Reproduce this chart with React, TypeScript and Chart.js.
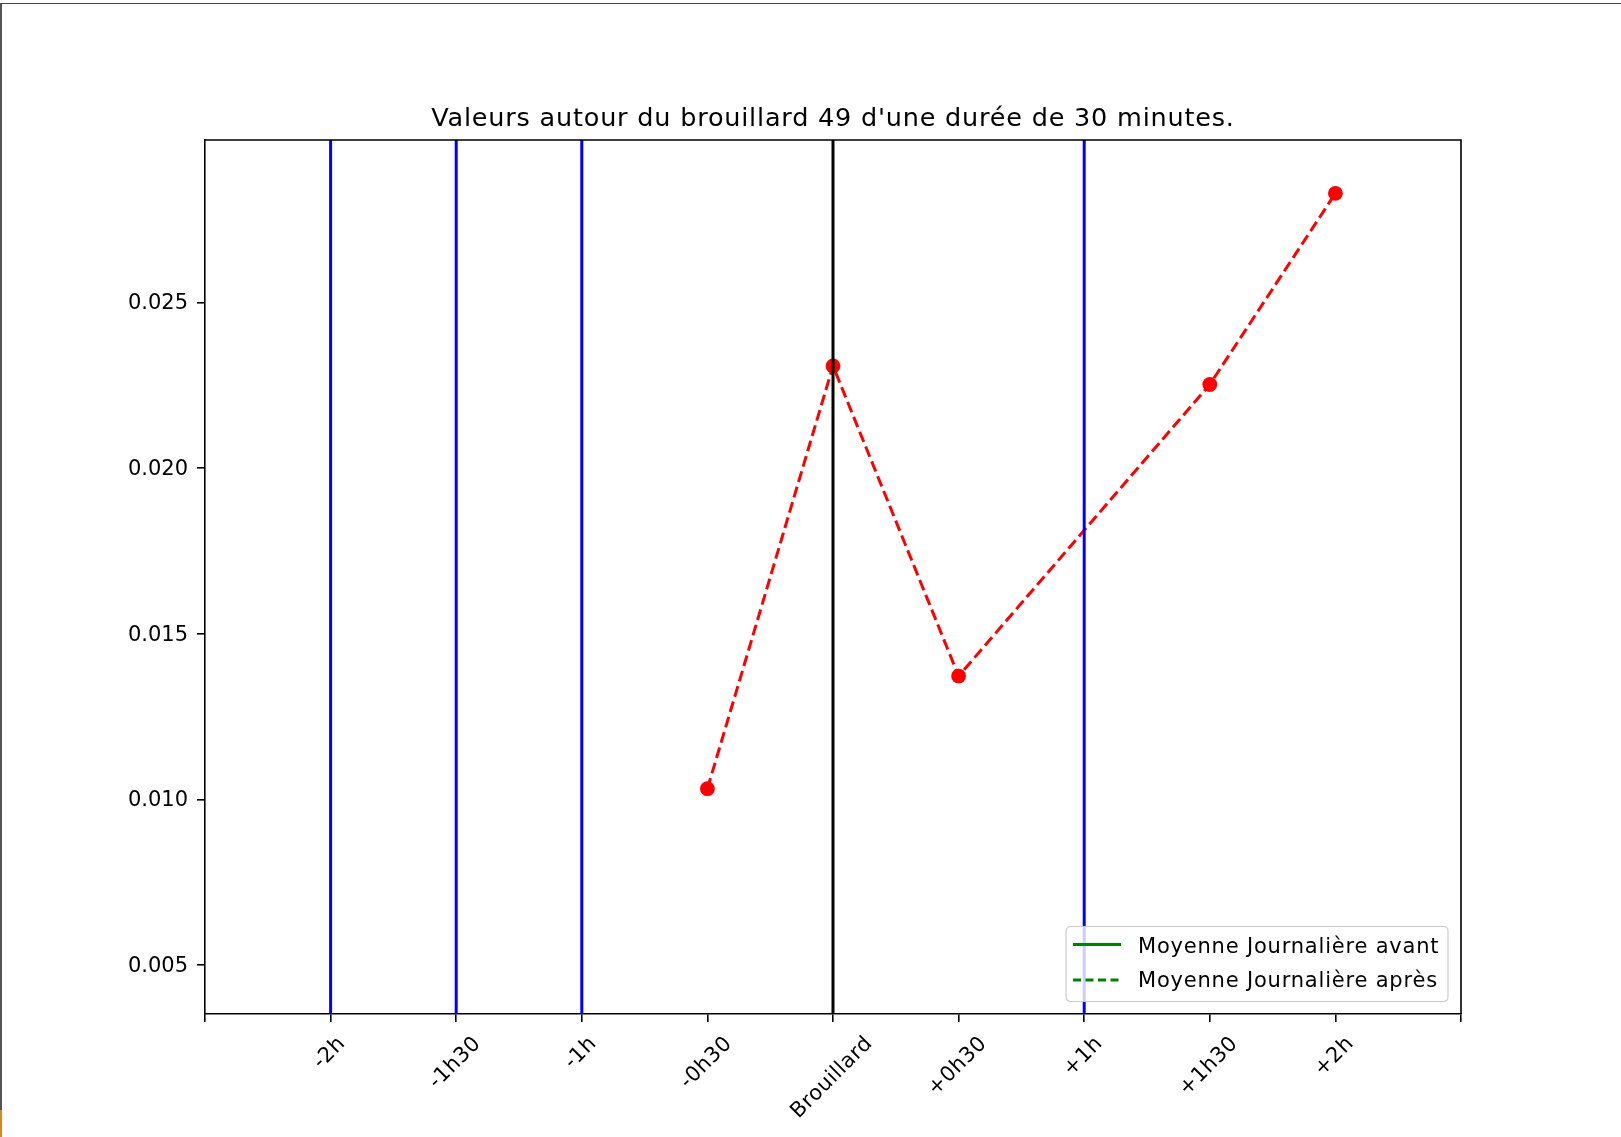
import React, { useEffect, useRef } from 'react';
import { Chart, registerables } from 'chart.js';

Chart.register(...registerables);

const TITLE = "Valeurs autour du brouillard 49 d'une durée de 30 minutes.";
const categories = ['-2h', '-1h30', '-1h', '-0h30', 'Brouillard', '+0h30', '+1h', '+1h30', '+2h'];
const values: (number | null)[] = [null, null, null, 0.01032, 0.02308, 0.01372, null, 0.02252, 0.02829];
const blueMarkers = ['-2h', '-1h30', '-1h', '+1h'];
const blackMarkers = ['Brouillard'];
const yTicks = [0.005, 0.01, 0.015, 0.02, 0.025];
const yMin = 0.003521;
const yMax = 0.029899;
const xMin = 0;
const xMax = 10;
const legendAvant = 'Moyenne Journalière avant';
const legendApres = 'Moyenne Journalière après';

const FONT = "'DejaVu Sans', sans-serif";
const catPos = (c: string) => categories.indexOf(c) + 1;

const framePlugin = {
  id: 'framePlugin',
  afterDraw(chart: any) {
    const { ctx, chartArea } = chart;
    const xs = chart.scales.x;
    ctx.save();
    // top & right spines
    ctx.strokeStyle = '#000';
    ctx.lineWidth = 1.6;
    ctx.beginPath();
    ctx.moveTo(chartArea.left, chartArea.top);
    ctx.lineTo(chartArea.right, chartArea.top);
    ctx.lineTo(chartArea.right, chartArea.bottom);
    ctx.stroke();

    // title
    ctx.fillStyle = '#000';
    ctx.font = `25.5px ${FONT}`;
    (ctx as any).letterSpacing = '0.8px';
    ctx.textAlign = 'center';
    ctx.textBaseline = 'alphabetic';
    ctx.fillText(TITLE, (chartArea.left + chartArea.right) / 2, 126);

    // rotated x tick labels (centered like matplotlib)
    ctx.font = `21px ${FONT}`;
    (ctx as any).letterSpacing = '0.5px';
    const s = Math.SQRT1_2;
    categories.forEach((lab, i) => {
      const px = xs.getPixelForValue(i + 1);
      const w = ctx.measureText(lab).width;
      const h = 24;
      const top = chartArea.bottom + 18;
      const cy = top + ((w + h) * s) / 2;
      ctx.save();
      ctx.translate(px - 1, cy);
      ctx.rotate(-Math.PI / 4);
      ctx.textAlign = 'center';
      ctx.textBaseline = 'middle';
      ctx.fillText(lab, 0, 0);
      ctx.restore();
    });

    // legend
    const lx = 1066, ly = 926.5, lw = 382, lh = 75, r = 5;
    ctx.beginPath();
    ctx.moveTo(lx + r, ly);
    ctx.lineTo(lx + lw - r, ly);
    ctx.quadraticCurveTo(lx + lw, ly, lx + lw, ly + r);
    ctx.lineTo(lx + lw, ly + lh - r);
    ctx.quadraticCurveTo(lx + lw, ly + lh, lx + lw - r, ly + lh);
    ctx.lineTo(lx + r, ly + lh);
    ctx.quadraticCurveTo(lx, ly + lh, lx, ly + lh - r);
    ctx.lineTo(lx, ly + r);
    ctx.quadraticCurveTo(lx, ly, lx + r, ly);
    ctx.closePath();
    ctx.fillStyle = 'rgba(255,255,255,0.8)';
    ctx.fill();
    ctx.strokeStyle = '#cccccc';
    ctx.lineWidth = 1.2;
    ctx.stroke();

    const entries = chart.data.datasets.filter((d: any) => d.inLegend);
    (ctx as any).letterSpacing = '0.8px';
    entries.forEach((d: any, i: number) => {
      const yLine = 944.5 + i * 35.5;
      ctx.strokeStyle = d.borderColor;
      ctx.lineWidth = 3.2;
      ctx.setLineDash(d.borderDash || []);
      ctx.beginPath();
      ctx.moveTo(1073, yLine);
      ctx.lineTo(1121, yLine);
      ctx.stroke();
      ctx.setLineDash([]);
      ctx.fillStyle = '#000';
      ctx.font = `21px ${FONT}`;
      ctx.textAlign = 'left';
      ctx.textBaseline = 'alphabetic';
      ctx.fillText(d.label, 1138, yLine + 8.5 - i * 1.5);
    });
    (ctx as any).letterSpacing = '0px';
    ctx.restore();
  },
};

export default function App() {
  const ref = useRef<HTMLCanvasElement | null>(null);

  useEffect(() => {
    document.body.style.margin = '0';
    const canvas = ref.current;
    if (!canvas) return;

    const pts = values
      .map((v, i) => (v === null ? null : { x: i + 1, y: v }))
      .filter((p) => p !== null);

    const vLine = (c: string, color: string) => ({
      label: c,
      data: [
        { x: catPos(c), y: yMin },
        { x: catPos(c), y: yMax },
      ],
      showLine: true,
      borderColor: color,
      borderWidth: 3,
      pointRadius: 0,
      order: 0,
    });

    const chart = new Chart(canvas, {
      type: 'scatter',
      data: {
        datasets: [
          ...blueMarkers.map((c) => vLine(c, '#0000ff')),
          ...blackMarkers.map((c) => vLine(c, '#000000')),
          {
            label: 'valeurs',
            data: pts as any,
            showLine: true,
            borderColor: '#ff0000',
            borderWidth: 3,
            borderDash: [11, 5],
            pointRadius: 7.4,
            pointBorderWidth: 0,
            pointBackgroundColor: '#ff0000',
            order: 1,
          },
          {
            label: legendAvant,
            data: [],
            showLine: true,
            borderColor: '#008000',
            inLegend: true,
          } as any,
          {
            label: legendApres,
            data: [],
            showLine: true,
            borderColor: '#008000',
            borderDash: [8, 4.5],
            inLegend: true,
          } as any,
        ],
      },
      options: {
        animation: false,
        responsive: false,
        maintainAspectRatio: false,
        layout: { padding: { top: 140, right: 160, bottom: 0, left: 0 } },
        plugins: {
          legend: { display: false },
          title: { display: false },
          tooltip: { enabled: false },
        },
        scales: {
          x: {
            type: 'linear',
            min: xMin,
            max: xMax,
            afterBuildTicks: (s: any) => {
              const t = [];
              for (let v = xMin; v <= xMax; v++) t.push({ value: v });
              s.ticks = t;
            },
            afterFit: (s: any) => {
              s.height = 123;
            },
            ticks: { display: false },
            grid: {
              drawOnChartArea: false,
              drawTicks: true,
              tickLength: 8,
              color: '#000',
              lineWidth: 1.6,
            },
            border: { display: true, color: '#000', width: 1.6 },
          },
          y: {
            type: 'linear',
            min: yMin,
            max: yMax,
            afterBuildTicks: (s: any) => {
              s.ticks = yTicks.map((v) => ({ value: v }));
            },
            afterFit: (s: any) => {
              s.width = 205;
            },
            ticks: {
              padding: 9,
              labelOffset: 1.5,
              color: '#000',
              font: { family: FONT, size: 21 },
              callback: (v: any) => Number(v).toFixed(3),
            },
            grid: {
              drawOnChartArea: false,
              drawTicks: true,
              tickLength: 8,
              color: '#000',
              lineWidth: 1.6,
            },
            border: { display: true, color: '#000', width: 1.6 },
          },
        },
      },
      plugins: [framePlugin],
    });

    return () => chart.destroy();
  }, []);

  return (
    <div style={{ position: 'absolute', left: 0, top: 0, width: 1621, height: 1137, background: '#fff', overflow: 'hidden' }}>
      <canvas ref={ref} width={1621} height={1137} style={{ position: 'absolute', left: 0, top: 0, width: 1621, height: 1137 }} />
      <div style={{ position: 'absolute', left: 0, top: 3, width: 1621, height: 1134, borderTop: '1.5px solid #444', borderLeft: '2px solid #555', boxSizing: 'border-box', pointerEvents: 'none' }} />
      <div style={{ position: 'absolute', left: 0, top: 1110, width: 2, height: 27, background: '#d9861a' }} />
    </div>
  );
}
